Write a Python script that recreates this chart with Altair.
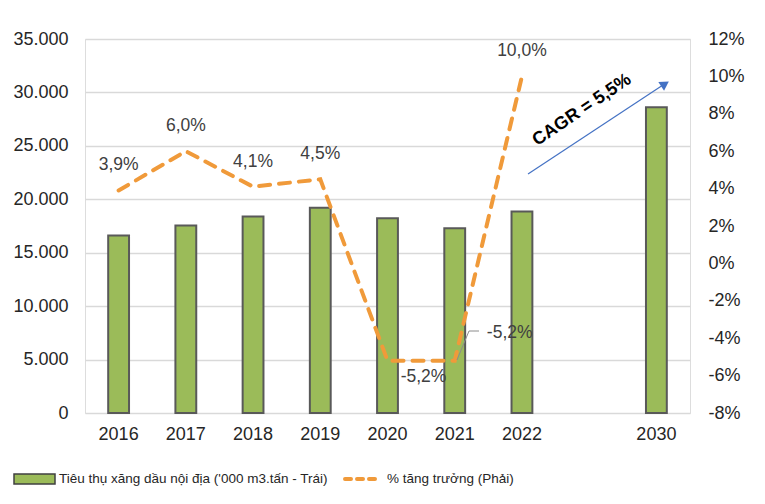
import altair as alt
import pandas as pd

# ---- data ----
years = ["2016", "2017", "2018", "2019", "2020", "2021", "2022", "2030"]
consumption = [16600, 17550, 18380, 19200, 18230, 17290, 18850, 28620]
growth_years = ["2016", "2017", "2018", "2019", "2020", "2021", "2022"]
growth = [3.9, 6.0, 4.1, 4.5, -5.2, -5.2, 10.0]
x_domain = ["2016", "2017", "2018", "2019", "2020", "2021", "2022", " ", "2030"]
left_ticks = [0, 5000, 10000, 15000, 20000, 25000, 30000, 35000]
right_ticks = [-8, -6, -4, -2, 0, 2, 4, 6, 8, 10, 12]
bar_legend = "Tiêu thụ xăng dầu nội địa ('000 m3.tấn - Trái)"
line_legend = "% tăng trưởng (Phải)"
cagr_text = "CAGR = 5,5%"


def pct_label(v):
    return f"{v:.1f}".replace(".", ",") + "%"


bar_df = pd.DataFrame({"year": years, "value": consumption})
line_df = pd.DataFrame({
    "year": growth_years,
    "growth": growth,
    "label": [pct_label(g) for g in growth],
})
one = pd.DataFrame({"k": [0]})

FONT = "Liberation Sans"
BAR_FILL = "#9BBB59"
BAR_STROKE = "#595959"
ORANGE = "#F09A3A"
BLUE = "#4472C4"

x_enc = alt.X(
    "year:N",
    scale=alt.Scale(domain=x_domain, paddingInner=0.69, paddingOuter=0.345),
    axis=alt.Axis(title=None, labelAngle=0, ticks=False, domain=False,
                  labelFontSize=18, labelPadding=12, labelColor="#262626",
                  labelFont=FONT, grid=False),
)

bars = alt.Chart(bar_df).mark_bar(
    fill=BAR_FILL, stroke=BAR_STROKE, strokeWidth=2
).encode(
    x=x_enc,
    y=alt.Y("value:Q",
            scale=alt.Scale(domain=[0, 35000], nice=False),
            axis=alt.Axis(title=None, orient="left", values=left_ticks,
                          labelExpr="replace(format(datum.value, ','), ',', '.')",
                          grid=True, gridColor="#D9D9D9", gridWidth=1.5,
                          domain=False, ticks=False, labelPadding=17,
                          labelFontSize=18, labelColor="#262626", labelFont=FONT)),
)

y_right = alt.Y("growth:Q",
                scale=alt.Scale(domain=[-8, 12], nice=False),
                axis=alt.Axis(title=None, orient="right", values=right_ticks,
                              labelExpr="datum.value + '%'",
                              grid=False, domain=False, ticks=False,
                              labelPadding=18, labelFontSize=18,
                              labelColor="#262626", labelFont=FONT))

line = alt.Chart(line_df).mark_line(
    color=ORANGE, strokeWidth=4, strokeDash=[11, 9], strokeCap="round"
).encode(x=x_enc, y=y_right)

label_style = dict(fontSize=17.5, color="#404040", font=FONT)
labels_main = alt.Chart(line_df).transform_filter(
    "datum.year != '2020' && datum.year != '2021'"
).mark_text(dy=-25, **label_style).encode(x=x_enc, y=y_right, text="label:N")

labels_2020 = alt.Chart(line_df).transform_filter(
    "datum.year == '2020'"
).mark_text(dx=36, dy=16, **label_style).encode(x=x_enc, y=y_right, text="label:N")

labels_2021 = alt.Chart(line_df).transform_filter(
    "datum.year == '2021'"
).mark_text(dx=55, dy=-28, **label_style).encode(x=x_enc, y=y_right, text="label:N")

right_layer = alt.layer(line, labels_main, labels_2020, labels_2021)

# leader line for the 2021 label
leader1 = alt.Chart(one).mark_rule(color="#8C8C8C", strokeWidth=1).encode(
    x=alt.value(372), y=alt.value(321), x2=alt.value(384), y2=alt.value(292))
leader2 = alt.Chart(one).mark_rule(color="#8C8C8C", strokeWidth=1).encode(
    x=alt.value(384), y=alt.value(292), x2=alt.value(394), y2=alt.value(292))

# CAGR arrow annotation
arrow_line = alt.Chart(one).mark_rule(color=BLUE, strokeWidth=1.2).encode(
    x=alt.value(443), y=alt.value(135), x2=alt.value(578), y2=alt.value(46))
arrow_head = alt.Chart(one).mark_point(
    shape="triangle-up", filled=True, color=BLUE, opacity=1, angle=57, size=110
).encode(x=alt.value(580), y=alt.value(45))
cagr = alt.Chart(one).mark_text(
    text=cagr_text, angle=326, fontSize=18, fontWeight="bold", font=FONT, color="#000000"
).encode(x=alt.value(497), y=alt.value(71))

# manual legend
LEG_FONT = 13.5
leg_rect = alt.Chart(one).mark_rect(fill=BAR_FILL, stroke="#404040", strokeWidth=1.5).encode(
    x=alt.value(-71), x2=alt.value(-30), y=alt.value(435), y2=alt.value(445))
leg_text1 = alt.Chart(one).mark_text(
    text=bar_legend, align="left", baseline="middle", fontSize=LEG_FONT,
    font=FONT, color="#262626"
).encode(x=alt.value(-26), y=alt.value(440))
leg_line = alt.Chart(one).mark_rule(
    color=ORANGE, strokeWidth=4, strokeDash=[6, 6], strokeCap="round"
).encode(x=alt.value(260), x2=alt.value(296), y=alt.value(440))
leg_text2 = alt.Chart(one).mark_text(
    text=line_legend, align="left", baseline="middle", fontSize=LEG_FONT,
    font=FONT, color="#262626"
).encode(x=alt.value(302), y=alt.value(440))

chart = alt.layer(
    bars, right_layer,
    leader1, leader2, arrow_line, arrow_head, cagr,
    leg_rect, leg_text1, leg_line, leg_text2,
).resolve_scale(y="independent").properties(
    width=605, height=374,
    autosize=alt.AutoSizeParams(type="none"),
    padding={"left": 77, "top": 31, "right": 60, "bottom": 78},
).configure_view(stroke=None).configure(background="white")

chart.save("out.html", embed_options={"renderer": "svg", "actions": False})
